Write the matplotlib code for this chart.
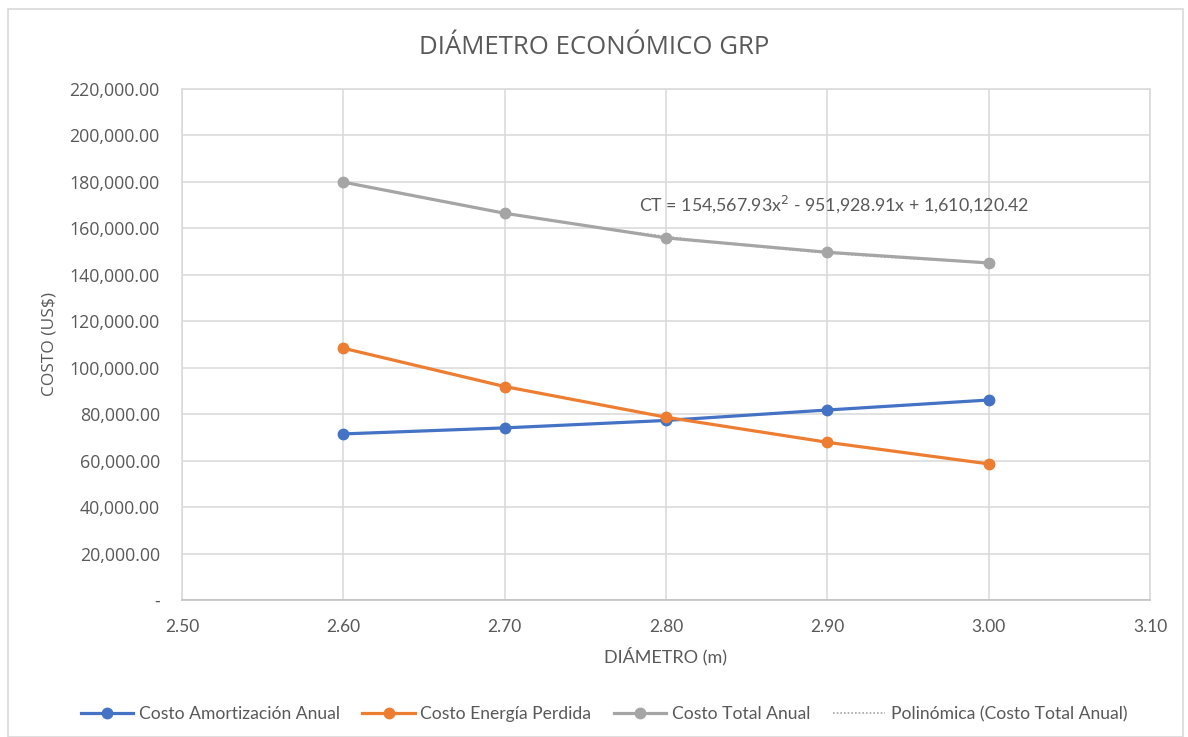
import matplotlib
matplotlib.use("Agg")
import matplotlib.pyplot as plt
import numpy as np
from matplotlib.ticker import FuncFormatter, MultipleLocator
from matplotlib.patches import Rectangle

# Data
diametro = [2.60, 2.70, 2.80, 2.90, 3.00]
costo_amortizacion = [71500, 74100, 77300, 81800, 86100]
costo_energia = [108400, 91900, 78700, 67900, 58600]
costo_total = [179900, 166500, 155900, 149700, 145100]

# Quadratic trend coefficients for the total cost
coef_a, coef_b, coef_c = 154567.93, -951928.91, 1610120.42

series_names = ["Costo Amortización Anual", "Costo Energía Perdida",
                "Costo Total Anual", "Polinómica (Costo Total Anual)"]
colors = ["#4472C4", "#ED7D31", "#A5A5A5"]

title_font = "Open Sans"
narrow_font = "Lato"
text_color = "#595959"

fig = plt.figure(figsize=(11.88, 7.37), dpi=100)
fig.patch.set_facecolor("white")
ax = fig.add_axes([182/1188, 1 - 600/737, (1150 - 182)/1188, (600 - 89)/737])

# outer chart border
fig.add_artist(Rectangle((8/1188, 0.0), (1183 - 8)/1188, 1 - 9/737,
                         transform=fig.transFigure, fill=False,
                         edgecolor="#d9d9d9", linewidth=1.2))

lw = 2.3
ms = 7.5
ax.plot(diametro, costo_amortizacion, color=colors[0], lw=lw, marker="o",
        ms=ms, label=series_names[0], zorder=3)
ax.plot(diametro, costo_energia, color=colors[1], lw=lw, marker="o",
        ms=ms, label=series_names[1], zorder=3)
ax.plot(diametro, costo_total, color=colors[2], lw=lw, marker="o",
        ms=ms, label=series_names[2], zorder=3)

xt = np.linspace(diametro[0], diametro[-1], 100)
ax.plot(xt, coef_a * xt**2 + coef_b * xt + coef_c, color=colors[2], lw=1.2,
        ls=(0, (1, 1.2)), label=series_names[3], zorder=2)

ax.set_xlim(2.50, 3.10)
ax.set_ylim(0, 220000)
ax.xaxis.set_major_locator(MultipleLocator(0.10))
ax.yaxis.set_major_locator(MultipleLocator(20000))
ax.xaxis.set_major_formatter(FuncFormatter(lambda v, p: f"{v:.2f}"))
ax.yaxis.set_major_formatter(
    FuncFormatter(lambda v, p: "-" if abs(v) < 1e-6 else f"{v:,.2f}"))

ax.grid(True, color="#d9d9d9", lw=1.1)
ax.set_axisbelow(True)
for s in ax.spines.values():
    s.set_color("#d9d9d9")
    s.set_linewidth(1.1)
ax.spines["bottom"].set_color("#bfbfbf")
ax.tick_params(length=0, colors=text_color)
ax.tick_params(axis="y", pad=16)
ax.tick_params(axis="x", pad=14)
for lbl in ax.get_yticklabels():
    lbl.set_fontfamily(title_font)
    lbl.set_fontsize(12.8)
for lbl in ax.get_xticklabels():
    lbl.set_fontfamily(narrow_font)
    lbl.set_fontsize(12.5)

ax.set_xlabel("DIÁMETRO (m)", fontfamily=narrow_font, fontsize=13,
              color=text_color, labelpad=8)
ax.set_ylabel("COSTO (US$)", fontfamily=title_font, fontsize=12.5,
              color=text_color)
ax.yaxis.set_label_coords((57 - 182) / 968, 0.5)

fig.text(0.5, 1 - 47/737, "DIÁMETRO ECONÓMICO GRP", ha="center", va="center",
         fontfamily=title_font, fontsize=18.5, color=text_color)

ax.text(2.783, 170500,
        "CT = 154,567.93x$^{2}$ - 951,928.91x + 1,610,120.42",
        fontfamily=narrow_font, fontsize=12.8, color=text_color,
        ha="left", va="center")

leg = fig.legend(loc="center", bbox_to_anchor=(604/1188, 1 - 714/737), ncol=4,
                 frameon=False, handlelength=3.0, columnspacing=1.3,
                 handletextpad=0.3, prop={"family": narrow_font, "size": 12.6})
for t in leg.get_texts():
    t.set_color(text_color)

fig.savefig("out.png", dpi=100, facecolor="white")
